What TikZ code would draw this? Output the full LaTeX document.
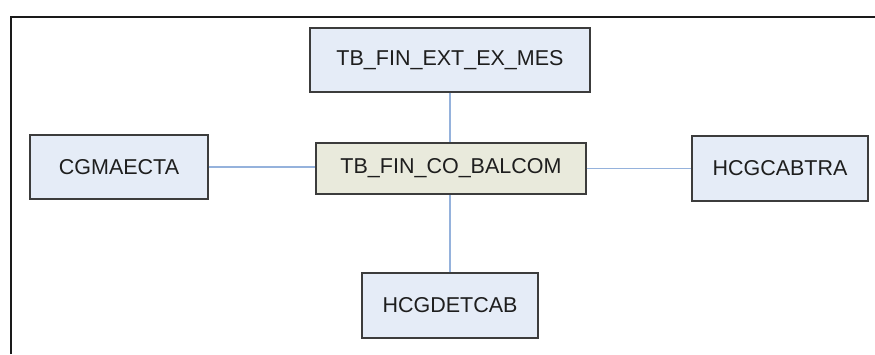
\documentclass[tikz,border=0pt]{standalone}
\usepackage{fontspec}
\setmainfont{Liberation Sans}
\begin{document}
\begin{tikzpicture}[x=1pt,y=-1pt,
  tablebox/.style={draw=boxline, line width=1.3pt, fill=tablefill, inner sep=0pt,
    font=\fontsize{21.5}{24}\selectfont, text=textcol},
  mainbox/.style={tablebox, fill=mainfill},
  link/.style={draw=linkcol, line width=1.6pt}]
\definecolor{boxline}{HTML}{3C3C3C}
\definecolor{tablefill}{HTML}{E5ECF7}
\definecolor{mainfill}{HTML}{E9EADC}
\definecolor{linkcol}{HTML}{95B2DC}
\definecolor{textcol}{HTML}{1E1E1E}
\definecolor{framecol}{HTML}{1A1A1A}
\useasboundingbox (0,0) rectangle (875,354);
\fill[white] (0,0) rectangle (875,354);
% open frame: top and left edges only
\coordinate (fl) at (11,354);
\coordinate (fc) at (11,17);
\coordinate (fr) at (875,17);
\draw[framecol, line width=2.2pt] (fl) -- (fc) -- (fr);
% tables
\node[mainbox, minimum width=270, minimum height=51] (bal) at (451,168.5) {TB\_FIN\_CO\_BALCOM};
\node[tablebox, minimum width=280, minimum height=64] (ext) at (450,60) {TB\_FIN\_EXT\_EX\_MES};
\node[tablebox, minimum width=178, minimum height=64] (cgm) at (119,167) {CGMAECTA};
\node[tablebox, minimum width=176, minimum height=65] (cab) at (780,168.5) {HCGCABTRA};
\node[tablebox, minimum width=176, minimum height=65] (det) at (450,305.5) {HCGDETCAB};
% relations
\draw[link] (ext.south) -- (ext.south |- bal.north);
\draw[link] (det.north) -- (det.north |- bal.south);
\draw[link] (cgm.east) -- (bal.west |- cgm.east);
\draw[link] (bal.east) -- (cab.west);
\end{tikzpicture}
\end{document}
